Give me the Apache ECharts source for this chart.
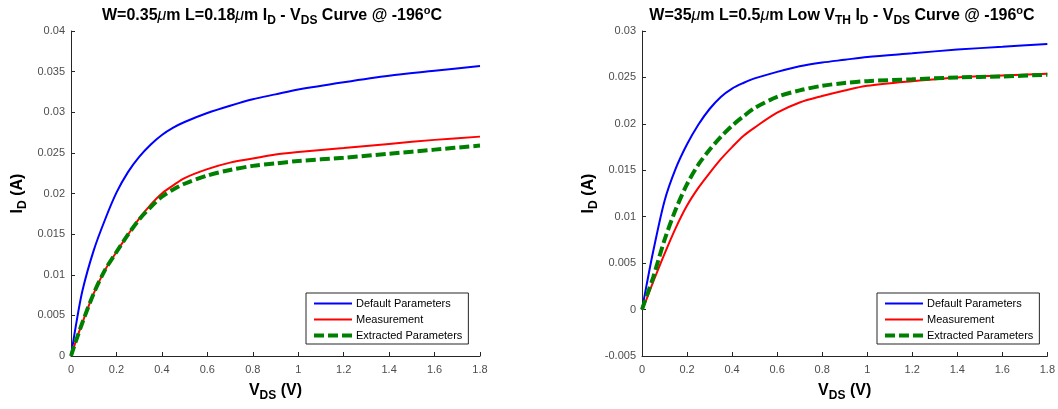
<!DOCTYPE html>
<html>
<head>
<meta charset="utf-8">
<script src="https://cdn.jsdelivr.net/npm/echarts@6/dist/echarts.min.js"></script>
<style>
  html, body { margin: 0; padding: 0; background: #fff; }
  #chart { width: 1058px; height: 409px; }
</style>
</head>
<body>
<div id="chart"></div>
<script>
// Drain voltage sweep shared by every curve (V)
const vds = [0, 0.02, 0.05, 0.1, 0.15, 0.2, 0.25, 0.3, 0.35, 0.4, 0.45, 0.5,
             0.6, 0.7, 0.8, 0.9, 1.0, 1.2, 1.4, 1.6, 1.8];

// W=0.35um L=0.18um device, drain current (A)
const leftDefault = [0, 0.0035, 0.0080, 0.0130, 0.0168, 0.0201, 0.0226, 0.0245, 0.0260, 0.0272, 0.0281, 0.0288,
                     0.0299, 0.0308, 0.0316, 0.0322, 0.0328, 0.0337, 0.0345, 0.0351, 0.0357];
const leftMeasured = [0, 0.0017, 0.0041, 0.0077, 0.0106, 0.0128, 0.0149, 0.0169, 0.0186, 0.0200, 0.0210, 0.0219,
                      0.0230, 0.0238, 0.0243, 0.0248, 0.0251, 0.0256, 0.0261, 0.0266, 0.0270];
const leftExtracted = [0, 0.0017, 0.0041, 0.0077, 0.0106, 0.0128, 0.0149, 0.0168, 0.0183, 0.0196, 0.0205, 0.0212,
                       0.0222, 0.0229, 0.0234, 0.0237, 0.0240, 0.0244, 0.0249, 0.0254, 0.0259];

// W=35um L=0.5um low-VTH device, drain current (A)
const rightDefault = [0, 0.0026, 0.0063, 0.0117, 0.0152, 0.0178, 0.0199, 0.0216, 0.0229, 0.0238, 0.0244, 0.0249,
                      0.0256, 0.0262, 0.0266, 0.0269, 0.0272, 0.0276, 0.0280, 0.0283, 0.0286];
const rightMeasured = [0, 0.0011, 0.0030, 0.0060, 0.0088, 0.0112, 0.0131, 0.0147, 0.0162, 0.0175, 0.0187, 0.0196,
                       0.0212, 0.0223, 0.0230, 0.0236, 0.0241, 0.0246, 0.0250, 0.0252, 0.0254];
const rightExtracted = [0, 0.0014, 0.0035, 0.0075, 0.0108, 0.0135, 0.0156, 0.0172, 0.0186, 0.0198, 0.0208, 0.0217,
                        0.0229, 0.0236, 0.0241, 0.0244, 0.0246, 0.0248, 0.0250, 0.0251, 0.0253];

const seriesNames = ['Default Parameters', 'Measurement', 'Extracted Parameters'];
const xTicks = { min: 0, max: 1.8, interval: 0.2 };
const leftYTicks = { min: 0, max: 0.04, interval: 0.005 };
const rightYTicks = { min: -0.005, max: 0.03, interval: 0.005 };

const FONT = '"Liberation Sans", Arial, Helvetica, sans-serif';
const axisGrey = '#262626';
const labelGrey = '#4d4d4d';

function pairs(ys) { return vds.map((v, i) => [v, ys[i]]); }

// Rich text styles for bold labels with sub/superscripts
const richBold = {
  b:   { fontFamily: FONT, fontWeight: 'bold', fontSize: 16, color: '#000', lineHeight: 22 },
  mu:  { fontFamily: FONT, fontStyle: 'italic', fontWeight: 'normal', fontSize: 16, color: '#000', lineHeight: 22 },
  sub: { fontFamily: FONT, fontWeight: 'bold', fontSize: 12, color: '#000', lineHeight: 10, verticalAlign: 'bottom' },
  sup: { fontFamily: FONT, fontWeight: 'bold', fontSize: 11, color: '#000', lineHeight: 6, verticalAlign: 'top' }
};

function xAxis(gridIndex) {
  return {
    type: 'value', gridIndex, min: xTicks.min, max: xTicks.max, interval: xTicks.interval,
    name: '{b|V}{sub|DS}{b| (V)}', nameLocation: 'middle', nameGap: 24,
    nameTextStyle: { rich: richBold },
    axisLine: { show: true, onZero: false, lineStyle: { color: axisGrey, width: 1 } },
    axisTick: { show: true, inside: true, length: 4, lineStyle: { color: axisGrey } },
    axisLabel: { color: labelGrey, fontFamily: FONT, fontSize: 11, margin: 8 },
    splitLine: { show: false }
  };
}
function yAxis(gridIndex, ticks, gap) {
  return {
    type: 'value', gridIndex, min: ticks.min, max: ticks.max, interval: ticks.interval,
    name: '{b|I}{sub|D}{b| (A)}', nameLocation: 'middle', nameGap: gap, nameRotate: 90,
    nameTextStyle: { rich: richBold },
    axisLine: { show: true, onZero: false, lineStyle: { color: axisGrey, width: 1 } },
    axisTick: { show: true, inside: true, length: 4, lineStyle: { color: axisGrey } },
    axisLabel: { color: labelGrey, fontFamily: FONT, fontSize: 11, margin: 6 },
    splitLine: { show: false }
  };
}

const seriesStyles = {
  'Default Parameters':   { color: '#0000ff', width: 2, type: 'solid' },
  'Measurement':          { color: '#ff0000', width: 2, type: 'solid' },
  'Extracted Parameters': { color: '#008000', width: 4, type: [10, 4] }
};

function lineSeries(name, ys, idx) {
  const s = seriesStyles[name];
  return {
    name, type: 'line', xAxisIndex: idx, yAxisIndex: idx,
    data: pairs(ys), smooth: 0.3, showSymbol: false, symbol: 'none', symbolSize: 0,
    lineStyle: { color: s.color, width: s.width, type: s.type, cap: 'butt' },
    itemStyle: { color: s.color },
    emphasis: { disabled: true }
  };
}

function legend(left) {
  return {
    show: true, orient: 'vertical', left, top: 293,
    data: seriesNames.map(name => ({
      name,
      lineStyle: { color: seriesStyles[name].color, width: seriesStyles[name].width, type: seriesStyles[name].type }
    })),
    itemWidth: 38, itemHeight: 12, itemGap: 5,
    padding: [5, 6, 3, 6], backgroundColor: '#fff',
    borderColor: axisGrey, borderWidth: 1, borderRadius: 0,
    itemStyle: { opacity: 0, borderWidth: 0 },
    textStyle: { fontFamily: FONT, fontSize: 11, color: '#000', padding: [0, 0, 0, -1] },
    selectedMode: false
  };
}

const chart = echarts.init(document.getElementById('chart'), null, { renderer: 'canvas' });
chart.setOption({
  animation: false,
  backgroundColor: '#fff',
  title: [
    { text: '{b|W=0.35}{mu|μ}{b|m L=0.18}{mu|μ}{b|m I}{sub|D}{b| - V}{sub|DS}{b| Curve @ -196}{sup|o}{b|C}',
      left: 267, top: 0, textAlign: 'center', textStyle: { rich: richBold } },
    { text: '{b|W=35}{mu|μ}{b|m L=0.5}{mu|μ}{b|m Low V}{sub|TH}{b| I}{sub|D}{b| - V}{sub|DS}{b| Curve @ -196}{sup|o}{b|C}',
      left: 837, top: 0, textAlign: 'center', textStyle: { rich: richBold } }
  ],
  grid: [
    { left: 71, right: 578, top: 31, bottom: 53, containLabel: false },
    { left: 642, right: 8, top: 31, bottom: 53, containLabel: false }
  ],
  xAxis: [xAxis(0), xAxis(1)],
  yAxis: [yAxis(0, leftYTicks, 42), yAxis(1, rightYTicks, 42)],
  legend: [legend(306), legend(877)],
  series: [
    lineSeries(seriesNames[0], leftDefault, 0),
    lineSeries(seriesNames[1], leftMeasured, 0),
    lineSeries(seriesNames[2], leftExtracted, 0),
    lineSeries(seriesNames[0], rightDefault, 1),
    lineSeries(seriesNames[1], rightMeasured, 1),
    lineSeries(seriesNames[2], rightExtracted, 1)
  ]
});
</script>
</body>
</html>
